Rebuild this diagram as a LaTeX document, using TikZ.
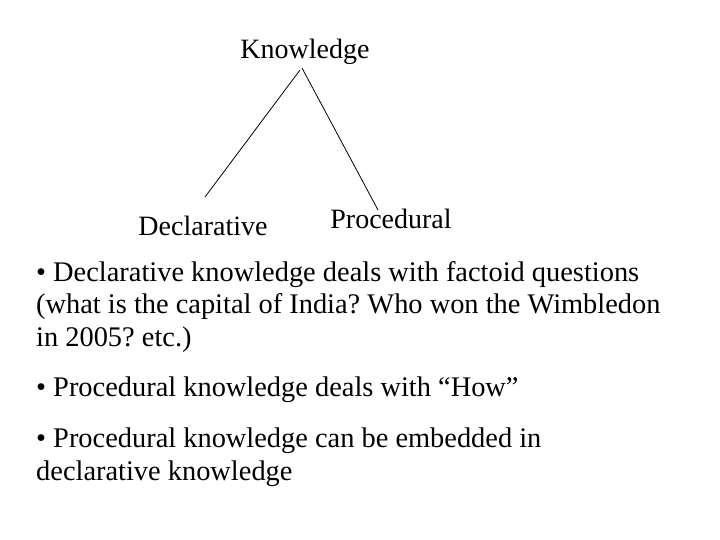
\documentclass[tikz,border=0pt]{standalone}
\usepackage{fontspec}
\setmainfont{Liberation Serif}
\frenchspacing
\begin{document}
\begin{tikzpicture}[x=1pt,y=-1pt,
  lbl/.style={inner sep=0pt,font=\fontsize{28}{32.5}\selectfont},
  para/.style={inner sep=0pt,anchor=north west,align=left,font=\fontsize{28.4}{32.8}\selectfont},
  edge/.style={draw=black,line width=0.8pt}]
\useasboundingbox (0,0) rectangle (720,540);
\node[lbl] (k) at (305,52) {Knowledge};
\node[lbl] (d) at (203,226) {Declarative};
\node[lbl] (p) at (391,219) {Procedural};
\coordinate (k1) at (300,70);
\coordinate (k2) at (302,68);
\coordinate (d1) at (205,197);
\coordinate (p1) at (378,210);
\draw[edge] (k1) -- (d1);
\draw[edge] (k2) -- (p1);
\node[para] (b1) at (36,261) {• Declarative knowledge deals with factoid questions\\(what is the capital of India? Who won the Wimbledon\\in 2005? etc.)};
\node[para] (b2) at (36,377) {• Procedural knowledge deals with “How”};
\node[para] (b3) at (36,428) {• Procedural knowledge can be embedded in\\declarative knowledge};
\end{tikzpicture}
\end{document}
